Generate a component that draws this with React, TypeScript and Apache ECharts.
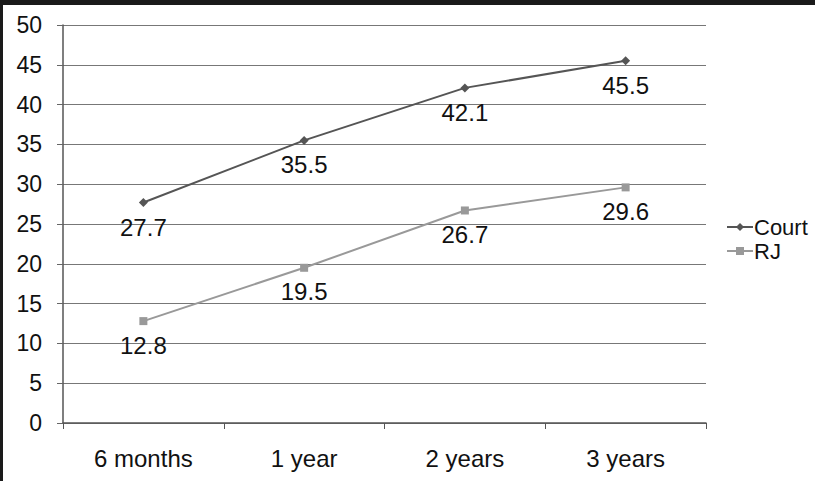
import React, { useEffect, useRef } from "react";
import * as echarts from "echarts";

const categories = ["6 months", "1 year", "2 years", "3 years"];
const courtValues = [27.7, 35.5, 42.1, 45.5];
const rjValues = [12.8, 19.5, 26.7, 29.6];
const seriesNames = ["Court", "RJ"];

export default function App() {
  const ref = useRef<HTMLDivElement>(null);
  useEffect(() => {
    if (!ref.current) return;
    const chart = echarts.init(ref.current, undefined, { renderer: "svg" });
    const font = "'Liberation Sans', Arial, sans-serif";
    chart.setOption({
      animation: false,
      backgroundColor: "#ffffff",
      textStyle: { fontFamily: font },
      grid: { left: 60, right: 109, top: 20, bottom: 58, containLabel: false },
      legend: {
        orient: "vertical",
        left: 723,
        top: 211,
        itemWidth: 26,
        itemHeight: 10,
        itemGap: 2,
        padding: 0,
        textStyle: { fontSize: 22, color: "#111", fontFamily: font, padding: [0, 0, 0, -4] },
        data: seriesNames,
      },
      xAxis: {
        type: "category",
        data: categories,
        boundaryGap: true,
        axisLine: { lineStyle: { color: "#555", width: 1.5 } },
        axisTick: { show: true, length: 6, inside: false, lineStyle: { color: "#555" } },
        axisLabel: { fontSize: 24, color: "#111", margin: 23, fontFamily: font },
        splitLine: { show: false },
      },
      yAxis: {
        type: "value",
        min: 0,
        max: 50,
        interval: 5,
        axisLine: { show: true, lineStyle: { color: "#555", width: 1.5 } },
        axisTick: { show: true, length: 6, lineStyle: { color: "#666" } },
        axisLabel: { fontSize: 23, color: "#111", margin: 21, fontFamily: font },
        splitLine: { show: true, lineStyle: { color: "#777", width: 1.2 } },
      },
      series: [
        {
          name: seriesNames[0],
          type: "line",
          data: courtValues,
          symbol: "diamond",
          symbolSize: 9,
          lineStyle: { color: "#555", width: 2 },
          itemStyle: { color: "#555" },
          label: {
            show: true,
            position: "bottom",
            distance: 8,
            fontSize: 24,
            color: "#111",
            fontFamily: font,
          },
        },
        {
          name: seriesNames[1],
          type: "line",
          data: rjValues,
          symbol: "rect",
          symbolSize: 8,
          lineStyle: { color: "#999", width: 2 },
          itemStyle: { color: "#999" },
          label: {
            show: true,
            position: "bottom",
            distance: 8,
            fontSize: 24,
            color: "#111",
            fontFamily: font,
          },
        },
      ],
    });
    return () => chart.dispose();
  }, []);
  return (
    <div
      style={{
        position: "fixed",
        left: 0,
        top: 0,
        width: 815,
        height: 481,
        background: "#1a1a1a",
      }}
    >
      <div
        ref={ref}
        style={{ position: "absolute", left: 3, top: 5, width: 812, height: 476 }}
      />
    </div>
  );
}
